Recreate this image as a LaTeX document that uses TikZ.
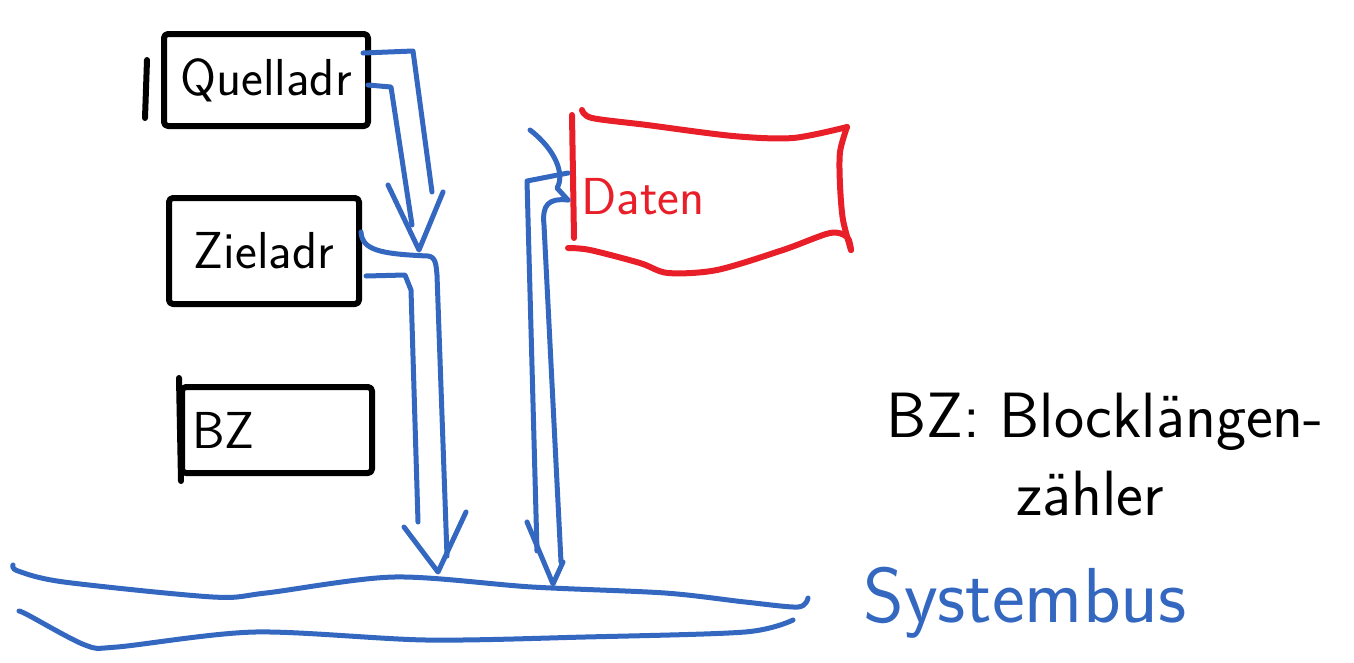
\documentclass[tikz,border=0pt]{standalone}
\usepackage{tikz}
\usetikzlibrary{calc}
\definecolor{busblue}{RGB}{52,104,192}
\definecolor{flagred}{RGB}{232,30,40}
\newcommand{\handfont}{\fontsize{52}{58}\selectfont\sffamily}
\newcommand{\notefont}{\fontsize{64}{70}\selectfont\sffamily}
\newcommand{\busfont}{\fontsize{78}{84}\selectfont\sffamily}

\begin{document}
\begin{tikzpicture}[x=1pt, y=-1pt, line cap=round, line join=round,
    ink/.style={line width=6pt},
    wire/.style={line width=5pt, draw=busblue},
    regbox/.style={ink, draw, rounded corners=4pt, inner sep=0pt, font=\handfont}]
  \useasboundingbox (0,0) rectangle (1354,662);

  % Register
  \node[regbox, minimum width=204, minimum height=92] (quell) at (266,80) {Quelladr};
  \node[regbox, minimum width=190, minimum height=106] (ziel) at (264,251) {Zieladr};
  \node[regbox, minimum width=190, minimum height=86, text width=170] (bz) at (277,430) {BZ};
  \draw[ink] ($(quell.west)+(-14,-20)$) -- ($(quell.west)+(-16,38)$);
  \draw[ink] ($(bz.north west)+(0,-6)$) -- ($(bz.south west)+(2,5)$);

  % Daten-Fahne
  \node[font=\handfont, text=flagred] (daten) at (643,197) {Daten};
  \draw[ink, flagred] (572,115) -- (574,238);
  \draw[ink, flagred] plot[smooth] coordinates {(582,110) (592,118) (647,125) (733,136) (793,138) (847,127)};
  \draw[ink, flagred] plot[smooth] coordinates {(847,127) (840,152) (840,185) (843,220) (851,250)};
  \draw[ink, flagred] plot[smooth] coordinates {(568,248) (590,250) (640,263) (668,273) (717,270) (783,250) (830,233) (847,237) (851,250)};
  \coordinate (pole) at (572,187);

  % Systembus
  \draw[wire] plot[smooth] coordinates {(13,565) (18,571) (64,582) (213,597) (266,593) (394,577) (532,587) (665,593) (745,602) (798,607) (808,598)};
  \draw[wire] plot[smooth] coordinates {(19,611) (28,615) (85,645) (117,647) (255,632) (426,640) (585,637) (745,632) (793,620)};
  \node[font=\busfont, text=busblue] (bus) at (1025,603) {Systembus};
  \coordinate (tipQ) at (419,250);
  \coordinate (tipA) at (438,572);
  \coordinate (tipB) at (553,584);

  % Quelladr -> Zieladr
  \draw[wire] ($(quell.east)+(-8,-27)$) -- (413,51) -- ($(tipQ)+(13,-58)$);
  \draw[wire] ($(quell.east)+(-3,5)$) -- (391,87) -- ($(tipQ)+(-7,-25)$);
  \draw[wire] ($(tipQ)+(-31,-65)$) -- (tipQ) -- ($(tipQ)+(24,-58)$);

  % Zieladr -> Bus
  \draw[wire] ($(ziel.east)+(-1,-19)$) .. controls (362,250) and (380,254) .. (428,256)
    .. controls (436,257) and (436,265) .. (437,275) -- ($(tipA)+(9,-16)$);
  \draw[wire] ($(ziel.east)+(4,25)$) -- (405,275) -- (411,290) -- ($(tipA)+(-20,-50)$);
  \draw[wire] ($(tipA)+(-34,-45)$) -- (tipA) -- ($(tipA)+(28,-60)$);

  % Daten -> Bus
  \draw[wire] ($(pole)+(-4,-14)$) -- (527,181) -- ($(tipB)+(-16,-33)$);
  \draw[wire] (530,130) .. controls (556,150) and (565,175) .. (557,188) -- ($(pole)+(-4,13)$);
  \draw[wire] ($(pole)+(-4,13)$) .. controls (548,198) and (542,205) .. (544,225) -- ($(tipB)+(8,-22)$);
  \draw[wire] ($(tipB)+(-26,-62)$) -- (tipB) -- ($(tipB)+(10,-22)$);

  % Erklaerung
  \node[font=\notefont] (bznote) at (1105,422) {BZ: Blocklängen-};
  \node[font=\notefont] (zaehler) at (1090,494) {zähler};
\end{tikzpicture}
\end{document}
